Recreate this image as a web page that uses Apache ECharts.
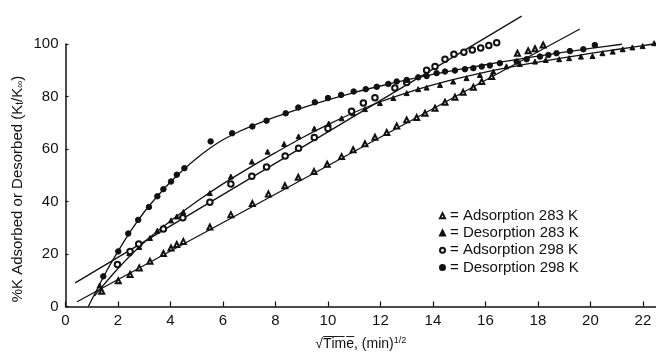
<!DOCTYPE html>
<html><head><meta charset="utf-8">
<script src="https://cdn.jsdelivr.net/npm/echarts@6/dist/echarts.min.js"></script>
<style>html,body{margin:0;padding:0;background:#fff}#c{width:656px;height:356px}</style>
</head><body><div id="c"></div>
<script>
// Series names
const seriesNames = ['Adsorption 283 K', 'Desorption 283 K', 'Adsorption 298 K', 'Desorption 298 K'];
// Tick settings
const xTicks = {min: 0, max: 22.5, interval: 2};
const yTicks = {min: 0, max: 100, interval: 20};

// Observed points [sqrt(time), %K]
const ads283 = [[1.38,5.8],[2.01,9.8],[2.46,12.2],[2.81,14.7],[3.22,17.2],[3.73,20.2],[4.02,22.3],[4.24,23.6],[4.49,24.8],
  [5.5,30.3],[6.3,35],[7.12,39.2],[7.73,42.9],[8.36,46],[8.87,49.2],[9.47,51.4],[9.97,54.2],[10.52,57.1],[10.96,59.7],
  [11.41,62],[11.79,64.5],[12.24,66.3],[12.62,68.8],[13.0,71.1],[13.38,72],[13.7,73.6],[14.08,75.5],[14.46,77.8],
  [14.84,79.7],[15.15,81.6],[15.54,83.5],[15.86,85.7],[16.24,87.6],[17.22,96.5],[17.63,97.4],[17.89,98.2],[18.2,99.6]];
const des283 = [[1.3,8],[2.43,20.3],[2.81,22.7],[3.22,26.1],[3.5,28.9],[3.73,30.2],[4.02,32.8],[4.24,34.3],[4.49,36],
  [5.5,43.2],[6.3,49.5],[7.1,55.2],[7.7,59],[8.33,61.9],[8.88,64.8],[9.48,67.8],[10.03,69.7],[10.52,71.7],[10.96,73.6],
  [11.41,75.2],[11.98,77.5],[12.49,79.4],[13.0,81.3],[13.44,82.8],[13.76,83.4],[14.27,84.4],[14.77,85.7],[15.28,87],
  [15.79,88.2],[16.3,89.5],[16.8,91.5],[17.31,92.4],[17.89,93.3],[18.3,93.9],[18.81,94.2],[19.19,94.6],[19.64,95.2],
  [20.08,95.4],[20.46,96.5],[20.85,97.1],[21.23,98],[21.6,98.7],[21.99,99.2],[22.43,100.3]];
const ads298 = [[1.98,16],[2.46,21],[2.79,23.8],[3.73,29.5],[4.47,33.8],[5.5,39.7],[6.3,46.7],[7.1,49.6],[7.66,53.1],
  [8.37,57.3],[8.88,60.3],[9.48,64.4],[10.0,67.8],[10.9,74.4],[11.35,77.5],[11.79,79.5],[12.55,83.2],[13.0,85.3],
  [13.76,90],[14.08,91.4],[14.46,94.2],[14.8,96.1],[15.18,96.9],[15.5,97.7],[15.82,98.5],[16.13,99.4],[16.43,100.5]];
const des298 = [[1.44,11.5],[2.01,21],[2.39,27.8],[2.77,33],[3.18,37.9],[3.5,42],[3.73,44.7],[4.02,47.6],[4.24,50.2],
  [4.53,52.7],[5.53,62.9],[6.35,66],[7.12,68.6],[7.66,70.8],[8.39,73.6],[8.87,75.8],[9.5,77.8],[10.0,79.4],[10.5,80.6],
  [10.98,81.9],[11.44,82.8],[11.86,83.7],[12.3,84.8],[12.62,85.7],[13.0,86.3],[13.44,87.3],[13.76,87.8],[14.14,88.9],
  [14.46,89.5],[14.84,89.9],[15.22,90.4],[15.54,90.8],[15.86,91.4],[16.17,91.8],[16.55,92.7],[17.19,93.3],[17.57,94.2],
  [18.08,95.2],[18.4,95.8],[18.71,96.5],[19.22,97.3],[19.73,98],[20.17,99.6]];

// Fitted lines
const fitAds283 = [[0.44,1.8],[19.6,105.7]];
const fitAds298 = [[0.37,9],[17.38,110.6]];
const fitDes283 = [[1.1,4],[2,14.5],[3,24.5],[4,32.6],[5,40],[6,46.7],[7,52.8],[8,58.6],[9,64.2],[10,69.3],[11,73.9],
  [12,78],[13,81.4],[14,84.4],[15,87],[16,89.3],[17,91.3],[18,93.1],[19,94.8],[20,96.4],[21,97.9],[22,99.4],[22.5,100.1]];
const fitDes298 = [[0.87,0],[1.5,12.3],[2,21],[2.5,29],[3,36],[3.5,42],[4,47.4],[4.5,52.2],[5,56.5],[5.5,60.3],[6,63.5],
  [6.5,66.1],[7,68.3],[8,72.2],[9,75.6],[10,78.7],[11,81.5],[12,84],[13,86.3],[14,88.4],[15,90.3],[16,92.1],[17,93.8],
  [18,95.4],[19,96.9],[20,98.3],[21.2,99.9]];

const INK = '#111';
const font = '"Liberation Sans", Arial, sans-serif';
const lineStyle = {color: INK, width: 1.3};

function fit(data) {
  return {type: 'line', data: data, showSymbol: false, smooth: data.length > 2 ? 0.3 : false,
    lineStyle: lineStyle, clip: false, silent: true, z: 2};
}
function pts(name, symbol, size, data) {
  return {type: 'scatter', name: name, data: data, symbol: symbol, symbolSize: size,
    itemStyle: {color: INK, borderColor: INK, borderWidth: 1, opacity: 1}, clip: false, z: 3};
}

const chart = echarts.init(document.getElementById('c'), null, {renderer: 'canvas'});
chart.setOption({
  backgroundColor: '#fff',
  animation: false,
  grid: {left: 65.5, right: 0, top: 44, bottom: 49},
  legend: {
    orient: 'vertical', left: 434, top: 202, itemWidth: 5, itemHeight: 5, itemGap: 0,
    data: seriesNames,
    formatter: n => '= ' + n,
    itemStyle: {opacity: 1},
    textStyle: {fontFamily: font, fontSize: 15, color: INK, lineHeight: 17.3}
  },
  graphic: [{
    type: 'text', x: 17.5, y: 189, rotation: Math.PI / 2,
    style: {
      text: '{a|%K Adsorbed or Desorbed (K}{s|t}{a|/K}{s|∞}{a|)}',
      align: 'center', verticalAlign: 'middle',
      rich: {a: {fontFamily: font, fontSize: 15, fill: INK, color: INK},
             s: {fontFamily: font, fontSize: 10, fill: INK, color: INK, padding: [6,0,0,0]}}
    }
  }],
  xAxis: {
    type: 'value', min: xTicks.min, max: xTicks.max, interval: xTicks.interval,
    name: '{a|√T̅i̅m̅e̅, (min)}{s|1/2}', nameLocation: 'middle', nameGap: 30,
    nameTextStyle: {rich: {a: {fontFamily: font, fontSize: 14, color: INK}, s: {fontFamily: font, fontSize: 9, color: INK, verticalAlign: 'top', padding: [0,0,6,0]}}},
    axisLine: {lineStyle: {color: INK, width: 1.5}},
    axisTick: {inside: true, length: 5, lineStyle: {color: INK, width: 1.2}},
    axisLabel: {showMaxLabel: false, fontFamily: font, fontSize: 15, color: INK, margin: 7},
    splitLine: {show: false}
  },
  yAxis: {
    type: 'value', min: yTicks.min, max: yTicks.max, interval: yTicks.interval,
    axisLine: {show: true, lineStyle: {color: INK, width: 1.5}},
    axisTick: {show: true, inside: true, length: 3, lineStyle: {color: INK, width: 1.2}},
    axisLabel: {fontFamily: font, fontSize: 15, color: INK, margin: 7},
    splitLine: {show: false}
  },
  series: [
    fit(fitAds283), fit(fitAds298), fit(fitDes283), fit(fitDes298),
    pts(seriesNames[0], 'emptyTriangle', 5, ads283),
    pts(seriesNames[1], 'triangle', 5, des283),
    pts(seriesNames[2], 'emptyCircle', 5.5, ads298),
    pts(seriesNames[3], 'circle', 5.5, des298)
  ]
});
</script></body></html>
